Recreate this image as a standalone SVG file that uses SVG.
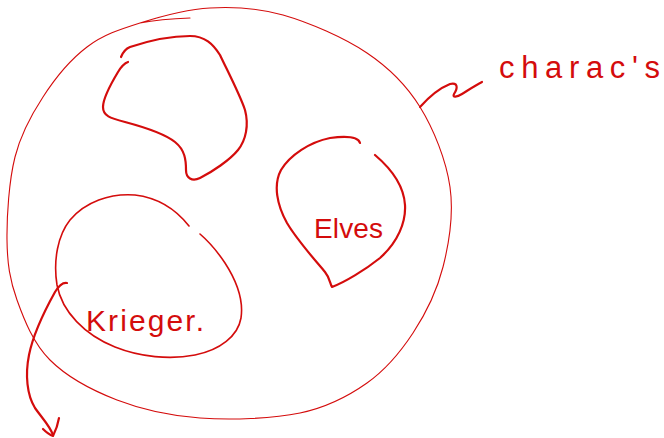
<svg xmlns="http://www.w3.org/2000/svg" width="664" height="438" viewBox="0 0 664 438">
<style>
.ln{fill:none;stroke:#d40c0c;stroke-linecap:round;stroke-linejoin:round}
.thin{stroke-width:1.1}
.mid{stroke-width:1.6}
.thick{stroke-width:2.2}
.lbl{font-family:"Liberation Sans",Arial,sans-serif;fill:#d40c0c}
</style>
<rect width="664" height="438" fill="#ffffff"/>
<g id="characters">
<path class="ln thin" d="M140 23 C160.5 16.5,186 9.3,210 8 C233.8 6.7,256.8 7.5,283 15 C309.2 22.5,344.2 37.7,367 53 C389.8 68.3,406.2 84.7,420 107 C433.8 129.3,446.2 160.3,450 187 C453.8 213.7,449.2 242.7,443 267 C436.8 291.3,425.7 313.7,413 333 C400.3 352.3,385.8 369.7,367 383 C348.2 396.3,327.8 407.2,300 413 C272.2 418.8,230.5 420.2,200 418 C169.5 415.8,142 409.7,117 400 C92 390.3,66.7 376.7,50 360 C33.3 343.3,24.2 320,17 300 C9.8 280,7.3 263.8,7 240 C6.7 216.2,9 180.8,15 157 C21 133.2,31 115.3,43 97 C55 78.3,70.8 59.3,87 47 C103.2 34.7,119.5 29.5,140 23 Q160 19,190 18"/>
<text class="lbl" x="499" y="78" font-size="31" textLength="161" lengthAdjust="spacing">charac's</text>
</g>
<g id="group-top">
<path class="ln thick" d="M121 57 C123 52,125 49,130 47 C145 42,170 36,190 36 C205 36,213 44,220 55 C228 72,240 95,245 110 C249 125,246 140,238 150 C230 160,212 172,200 178 C192 182,186 178,186 170 C186 160,185 150,175 142 C165 134,140 126,125 122 C110 118,103 116,103 107 C103 97,112 82,118 72 C121 67,125 63,128 62"/>
</g>
<g id="elves">
<path class="ln thick" d="M360 143 C358 136,345 136,330 138 C310 142,290 155,281 170 C273 185,277 205,287 223 C297 240,315 260,325 272 C330 278,330 284,332 287 C345 282,365 270,380 258 C398 242,406 222,405 205 C404 188,395 172,375 155"/>
<text class="lbl" x="314" y="238" font-size="28" textLength="69" lengthAdjust="spacing">Elves</text>
</g>
<g id="krieger">
<path class="ln mid" d="M189 226 C178 212,160 198,135 195 C110 193,85 202,70 220 C58 235,53 260,57 285 C62 312,85 335,115 347 C140 357,170 360,195 355 C220 350,238 336,241 318 C244 298,236 280,225 263 C215 248,207 240,200 234"/>
<text class="lbl" x="86" y="331" font-size="30" textLength="118" lengthAdjust="spacing">Krieger.</text>
</g>
<g id="connectors">
<path class="ln thick" d="M67 283 C62 282,58 287,55 292 C45 310,33 335,29 355 C25 375,27 395,35 408 C42 418,50 426,53 435"/>
<path class="ln thick" d="M43 429 C46 432,50 435,53 436 C56 430,58 424,59 418"/>
<path class="ln thick" d="M420 107 C428 98,440 88,450 84 C458 82,458 88,454 94 C452 98,457 97,462 94 C470 89,476 85,482 82"/>
</g>
</svg>
